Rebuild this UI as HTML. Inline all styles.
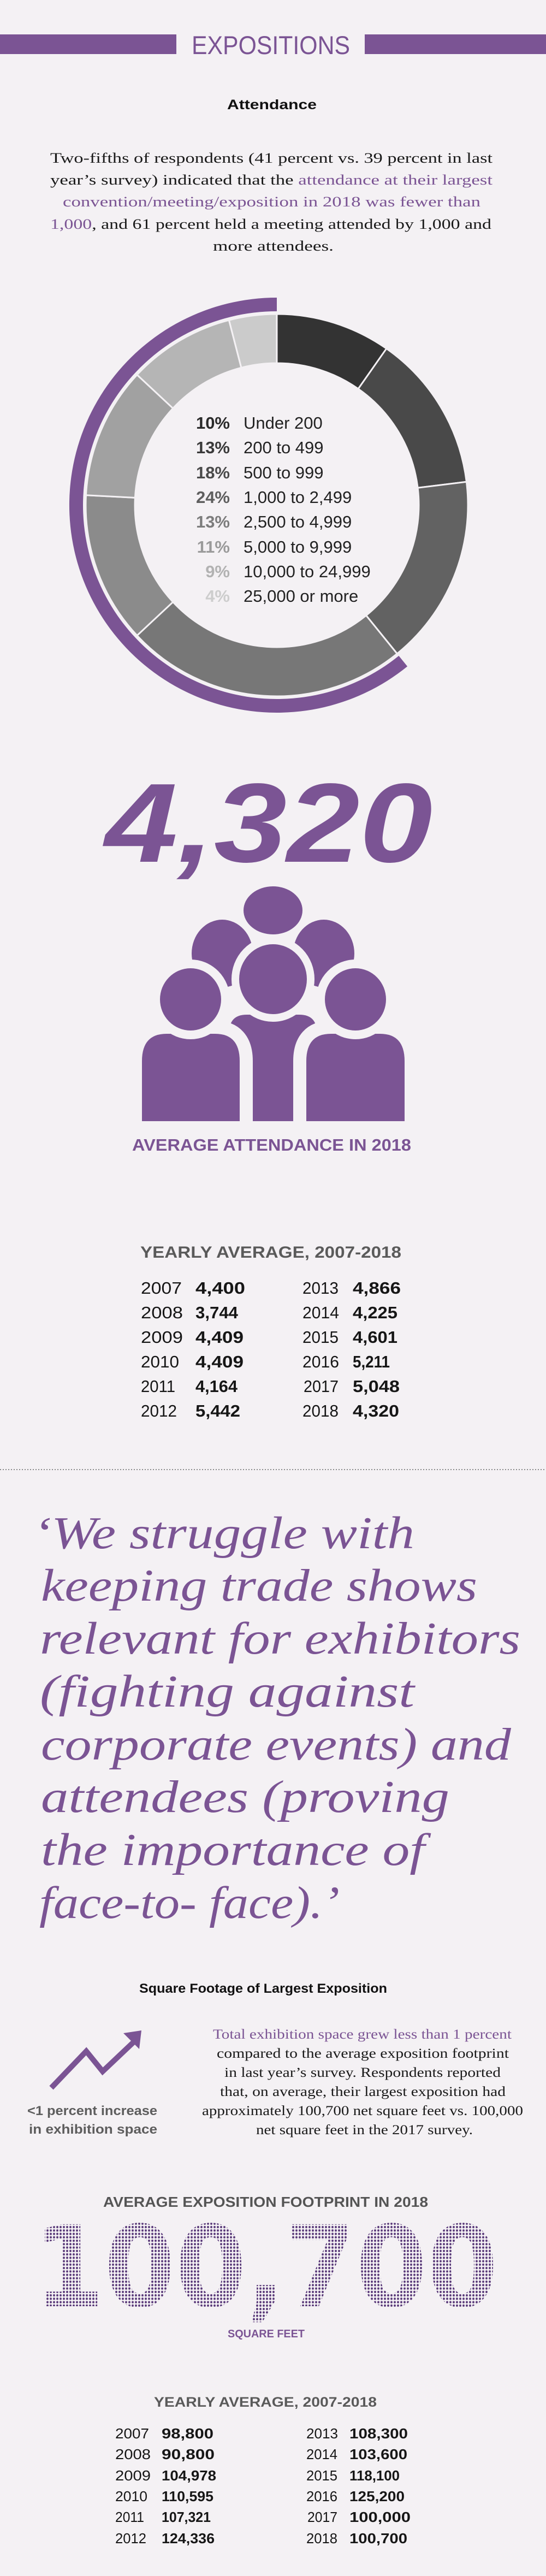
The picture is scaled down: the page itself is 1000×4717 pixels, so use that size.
<!DOCTYPE html>
<html>
<head>
<meta charset="utf-8">
<style>
  html, body { margin: 0; padding: 0; background: #f4f1f4; }
  svg { display: block; }
  .sans { font-family: "Liberation Sans", "DejaVu Sans", sans-serif; }
  .serif { font-family: "Liberation Serif", "DejaVu Serif", serif; }
</style>
</head>
<body>
<svg xmlns="http://www.w3.org/2000/svg" width="1000" height="4717" viewBox="0 0 1000 4717">
  <defs>
    <pattern id="dots" width="6" height="6.25" patternUnits="userSpaceOnUse">
      <ellipse cx="3" cy="3.1" rx="1.9" ry="2.1" fill="#583878"/>
    </pattern>
  </defs>
  <rect x="0" y="0" width="1000" height="4717" fill="#f4f1f4"/>

  <!-- HEADER -->
  <rect x="0" y="63" width="323" height="36" fill="#7b5494"/>
  <rect x="668" y="63" width="332" height="36" fill="#7b5494"/>
  <text class="sans" x="351" y="99" font-size="47" textLength="290" lengthAdjust="spacingAndGlyphs" fill="#7b5494">EXPOSITIONS</text>

  <text class="sans" x="416" y="200" font-size="25" font-weight="bold" textLength="164" lengthAdjust="spacingAndGlyphs" fill="#111">Attendance</text>

  <g class="serif" font-size="26" fill="#1a1a1a">
    <text x="92" y="298" textLength="810" lengthAdjust="spacingAndGlyphs">Two-fifths of respondents (41 percent vs. 39 percent in last</text>
    <text x="92" y="338" textLength="810" lengthAdjust="spacingAndGlyphs">year’s survey) indicated that the <tspan fill="#7b5494">attendance at their largest</tspan></text>
    <text x="115" y="378" textLength="765" lengthAdjust="spacingAndGlyphs" fill="#7b5494">convention/meeting/exposition in 2018 was fewer than</text>
    <text x="92" y="419" textLength="808" lengthAdjust="spacingAndGlyphs"><tspan fill="#7b5494">1,000</tspan>, and 61 percent held a meeting attended by 1,000 and</text>
    <text x="390" y="459" textLength="221" lengthAdjust="spacingAndGlyphs">more attendees.</text>
  </g>

  <!-- DONUT -->
  <path d="M746.1,1220.3 A380,380 0 1 1 507,545 L507,570 A355,355 0 1 0 730.4,1200.9 Z" fill="#7b5494"/>
  <g stroke="#f4f1f4" stroke-width="3" stroke-linejoin="round">
    <path d="M507,575 A350,350 0 0 1 707.8,638.3 L656.1,712 A260,260 0 0 0 507,665 Z" fill="#333333"/>
    <path d="M707.8,638.3 A350,350 0 0 1 854.4,882.3 L765.1,893.3 A260,260 0 0 0 656.1,712 Z" fill="#494949"/>
    <path d="M854.4,882.3 A350,350 0 0 1 727.3,1197 L670.6,1127 A260,260 0 0 0 765.1,893.3 Z" fill="#626262"/>
    <path d="M727.3,1197 A350,350 0 0 1 251,1163.7 L316.8,1102.3 A260,260 0 0 0 670.6,1127 Z" fill="#777777"/>
    <path d="M251,1163.7 A350,350 0 0 1 157.5,906.7 L247.4,911.4 A260,260 0 0 0 316.8,1102.3 Z" fill="#8b8b8b"/>
    <path d="M157.5,906.7 A350,350 0 0 1 251,686.3 L316.8,747.7 A260,260 0 0 0 247.4,911.4 Z" fill="#a1a1a1"/>
    <path d="M251,686.3 A350,350 0 0 1 419.4,586.2 L441.9,673.3 A260,260 0 0 0 316.8,747.7 Z" fill="#b5b5b5"/>
    <path d="M419.4,586.2 A350,350 0 0 1 507,575 L507,665 A260,260 0 0 0 441.9,673.3 Z" fill="#cbcbcb"/>
  </g>
  <g class="sans" font-size="31">
    <g font-weight="bold" text-anchor="end">
      <text x="421" y="785" fill="#2a2a2a">10%</text>
      <text x="421" y="830" fill="#3a3a3a">13%</text>
      <text x="421" y="876" fill="#4a4a4a">18%</text>
      <text x="421" y="921" fill="#5e5e5e">24%</text>
      <text x="421" y="966" fill="#7c7c7c">13%</text>
      <text x="421" y="1012" fill="#9a9a9a">11%</text>
      <text x="421" y="1057" fill="#b2b2b2">9%</text>
      <text x="421" y="1102" fill="#cdcdcd">4%</text>
    </g>
    <g fill="#222">
      <text x="446" y="785">Under 200</text>
      <text x="446" y="830">200 to 499</text>
      <text x="446" y="876">500 to 999</text>
      <text x="446" y="921">1,000 to 2,499</text>
      <text x="446" y="966">2,500 to 4,999</text>
      <text x="446" y="1012">5,000 to 9,999</text>
      <text x="446" y="1057">10,000 to 24,999</text>
      <text x="446" y="1102">25,000 or more</text>
    </g>
  </g>

  <!-- 4,320 -->
  <text class="sans" x="192" y="1578" font-size="206" font-weight="bold" font-style="italic" textLength="600" lengthAdjust="spacingAndGlyphs" fill="#7b5494">4,320</text>

  <!-- PEOPLE ICON -->
  <g fill="#7b5494" stroke="#f4f1f4" paint-order="stroke" stroke-linejoin="round">
    <ellipse cx="500" cy="1667" rx="54" ry="44" stroke-width="0"/>
    <ellipse cx="407" cy="1746" rx="56" ry="62" stroke-width="26"/>
    <ellipse cx="593" cy="1746" rx="56" ry="62" stroke-width="26"/>
    <path d="M420,2053 V1890 Q420,1858 452,1858 H548 Q580,1858 580,1890 V2053 Z" stroke-width="26"/>
    <ellipse cx="500" cy="1793" rx="62" ry="64" stroke-width="28"/>
    <path d="M260,2053 V1943 Q260,1893 305,1893 H394 Q439,1893 439,1943 V2053 Z" stroke-width="48"/>
    <ellipse cx="349" cy="1830" rx="56" ry="57" stroke-width="32"/>
    <path d="M561,2053 V1943 Q561,1893 606,1893 H696 Q741,1893 741,1943 V2053 Z" stroke-width="48"/>
    <ellipse cx="651" cy="1830" rx="56" ry="57" stroke-width="32"/>
  </g>
  <rect x="230" y="2053" width="540" height="30" fill="#f4f1f4"/>
  <text class="sans" x="242" y="2107" font-size="31" font-weight="bold" textLength="511" lengthAdjust="spacingAndGlyphs" fill="#7b5494">AVERAGE ATTENDANCE IN 2018</text>

  <!-- TABLE 1 -->
  <text class="sans" x="257" y="2303" font-size="30" font-weight="bold" textLength="478" lengthAdjust="spacingAndGlyphs" fill="#5a5a5a">YEARLY AVERAGE, 2007-2018</text>
  <g class="sans" font-size="31" fill="#161616">
    <text x="258" y="2369" textLength="75" lengthAdjust="spacingAndGlyphs">2007</text>
    <text x="258" y="2414" textLength="77" lengthAdjust="spacingAndGlyphs">2008</text>
    <text x="258" y="2459" textLength="77" lengthAdjust="spacingAndGlyphs">2009</text>
    <text x="258" y="2504" textLength="70" lengthAdjust="spacingAndGlyphs">2010</text>
    <text x="258" y="2549" textLength="63" lengthAdjust="spacingAndGlyphs">2011</text>
    <text x="258" y="2594" textLength="66" lengthAdjust="spacingAndGlyphs">2012</text>
    <text x="554" y="2369" textLength="66" lengthAdjust="spacingAndGlyphs">2013</text>
    <text x="554" y="2414" textLength="67" lengthAdjust="spacingAndGlyphs">2014</text>
    <text x="554" y="2459" textLength="66" lengthAdjust="spacingAndGlyphs">2015</text>
    <text x="554" y="2504" textLength="67" lengthAdjust="spacingAndGlyphs">2016</text>
    <text x="556" y="2549" textLength="64" lengthAdjust="spacingAndGlyphs">2017</text>
    <text x="554" y="2594" textLength="66" lengthAdjust="spacingAndGlyphs">2018</text>
    <g font-weight="bold">
      <text x="358" y="2369" textLength="91" lengthAdjust="spacingAndGlyphs">4,400</text>
      <text x="358" y="2414" textLength="78" lengthAdjust="spacingAndGlyphs">3,744</text>
      <text x="358" y="2459" textLength="88" lengthAdjust="spacingAndGlyphs">4,409</text>
      <text x="358" y="2504" textLength="88" lengthAdjust="spacingAndGlyphs">4,409</text>
      <text x="358" y="2549" textLength="77" lengthAdjust="spacingAndGlyphs">4,164</text>
      <text x="358" y="2594" textLength="82" lengthAdjust="spacingAndGlyphs">5,442</text>
      <text x="646" y="2369" textLength="88" lengthAdjust="spacingAndGlyphs">4,866</text>
      <text x="646" y="2414" textLength="82" lengthAdjust="spacingAndGlyphs">4,225</text>
      <text x="646" y="2459" textLength="82" lengthAdjust="spacingAndGlyphs">4,601</text>
      <text x="646" y="2504" textLength="68" lengthAdjust="spacingAndGlyphs">5,211</text>
      <text x="646" y="2549" textLength="86" lengthAdjust="spacingAndGlyphs">5,048</text>
      <text x="646" y="2594" textLength="85" lengthAdjust="spacingAndGlyphs">4,320</text>
    </g>
  </g>

  <!-- DOTTED SEPARATOR -->
  <line x1="0" y1="2691" x2="1000" y2="2691" stroke="#8a8a8a" stroke-width="2" stroke-dasharray="2 3"/>

  <!-- QUOTE -->
  <g class="serif" font-size="84" font-style="italic" fill="#7b5494">
    <text x="61" y="2835" textLength="698" lengthAdjust="spacingAndGlyphs">‘We struggle with</text>
    <text x="75" y="2931" textLength="799" lengthAdjust="spacingAndGlyphs">keeping trade shows</text>
    <text x="73" y="3028" textLength="880" lengthAdjust="spacingAndGlyphs">relevant for exhibitors</text>
    <text x="73" y="3125" textLength="686" lengthAdjust="spacingAndGlyphs">(fighting against</text>
    <text x="75" y="3222" textLength="861" lengthAdjust="spacingAndGlyphs">corporate events) and</text>
    <text x="75" y="3318" textLength="748" lengthAdjust="spacingAndGlyphs">attendees (proving</text>
    <text x="75" y="3415" textLength="703" lengthAdjust="spacingAndGlyphs">the importance of</text>
    <text x="72" y="3512" textLength="550" lengthAdjust="spacingAndGlyphs">face-to- face).’</text>
  </g>

  <!-- SQUARE FOOTAGE -->
  <text class="sans" x="255" y="3649" font-size="24" font-weight="bold" textLength="454" lengthAdjust="spacingAndGlyphs" fill="#111">Square Footage of Largest Exposition</text>

  <polyline points="94,3823 158,3756 188,3793 244,3740" fill="none" stroke="#7b5494" stroke-width="10" stroke-linejoin="miter"/>
  <polygon points="226,3723 259,3718 255,3752" fill="#7b5494"/>

  <g class="sans" font-size="24" font-weight="bold" fill="#5d5d5d">
    <text x="50" y="3873" textLength="238" lengthAdjust="spacingAndGlyphs">&lt;1 percent increase</text>
    <text x="53" y="3907" textLength="235" lengthAdjust="spacingAndGlyphs">in exhibition space</text>
  </g>

  <g class="serif" font-size="25" fill="#1a1a1a">
    <text x="390" y="3733" textLength="547" lengthAdjust="spacingAndGlyphs" fill="#7b5494">Total exhibition space grew less than 1 percent</text>
    <text x="397" y="3768" textLength="535" lengthAdjust="spacingAndGlyphs">compared to the average exposition footprint</text>
    <text x="411" y="3803" textLength="506" lengthAdjust="spacingAndGlyphs">in last year’s survey. Respondents reported</text>
    <text x="403" y="3838" textLength="523" lengthAdjust="spacingAndGlyphs">that, on average, their largest exposition had</text>
    <text x="370" y="3873" textLength="588" lengthAdjust="spacingAndGlyphs">approximately 100,700 net square feet vs. 100,000</text>
    <text x="469" y="3908" textLength="397" lengthAdjust="spacingAndGlyphs">net square feet in the 2017 survey.</text>
  </g>

  <text class="sans" x="189" y="4041" font-size="26" font-weight="bold" textLength="595" lengthAdjust="spacingAndGlyphs" fill="#555555">AVERAGE EXPOSITION FOOTPRINT IN 2018</text>

  <text x="61" y="4223" font-family="'DejaVu Sans', 'Liberation Sans', sans-serif" font-size="206" font-weight="bold" textLength="851" lengthAdjust="spacingAndGlyphs" fill="url(#dots)">100,700</text>

  <text class="sans" x="417" y="4280" font-size="20" font-weight="bold" textLength="141" lengthAdjust="spacingAndGlyphs" fill="#7b5494">SQUARE FEET</text>

  <!-- TABLE 2 -->
  <text class="sans" x="282" y="4407" font-size="25" font-weight="bold" textLength="408" lengthAdjust="spacingAndGlyphs" fill="#5a5a5a">YEARLY AVERAGE, 2007-2018</text>
  <g class="sans" font-size="26" fill="#161616">
    <text x="211" y="4465" textLength="62" lengthAdjust="spacingAndGlyphs">2007</text>
    <text x="211" y="4503" textLength="65" lengthAdjust="spacingAndGlyphs">2008</text>
    <text x="211" y="4542" textLength="65" lengthAdjust="spacingAndGlyphs">2009</text>
    <text x="211" y="4580" textLength="59" lengthAdjust="spacingAndGlyphs">2010</text>
    <text x="211" y="4618" textLength="53" lengthAdjust="spacingAndGlyphs">2011</text>
    <text x="211" y="4657" textLength="57" lengthAdjust="spacingAndGlyphs">2012</text>
    <text x="561" y="4465" textLength="58" lengthAdjust="spacingAndGlyphs">2013</text>
    <text x="561" y="4503" textLength="57" lengthAdjust="spacingAndGlyphs">2014</text>
    <text x="561" y="4542" textLength="57" lengthAdjust="spacingAndGlyphs">2015</text>
    <text x="561" y="4580" textLength="57" lengthAdjust="spacingAndGlyphs">2016</text>
    <text x="563" y="4618" textLength="55" lengthAdjust="spacingAndGlyphs">2017</text>
    <text x="561" y="4657" textLength="57" lengthAdjust="spacingAndGlyphs">2018</text>
    <g font-weight="bold">
      <text x="296" y="4465" textLength="95" lengthAdjust="spacingAndGlyphs">98,800</text>
      <text x="296" y="4503" textLength="97" lengthAdjust="spacingAndGlyphs">90,800</text>
      <text x="296" y="4542" textLength="100" lengthAdjust="spacingAndGlyphs">104,978</text>
      <text x="296" y="4580" textLength="95" lengthAdjust="spacingAndGlyphs">110,595</text>
      <text x="296" y="4618" textLength="90" lengthAdjust="spacingAndGlyphs">107,321</text>
      <text x="296" y="4657" textLength="97" lengthAdjust="spacingAndGlyphs">124,336</text>
      <text x="640" y="4465" textLength="107" lengthAdjust="spacingAndGlyphs">108,300</text>
      <text x="640" y="4503" textLength="106" lengthAdjust="spacingAndGlyphs">103,600</text>
      <text x="640" y="4542" textLength="92" lengthAdjust="spacingAndGlyphs">118,100</text>
      <text x="640" y="4580" textLength="101" lengthAdjust="spacingAndGlyphs">125,200</text>
      <text x="640" y="4618" textLength="112" lengthAdjust="spacingAndGlyphs">100,000</text>
      <text x="640" y="4657" textLength="106" lengthAdjust="spacingAndGlyphs">100,700</text>
    </g>
  </g>
</svg>
</body>
</html>
